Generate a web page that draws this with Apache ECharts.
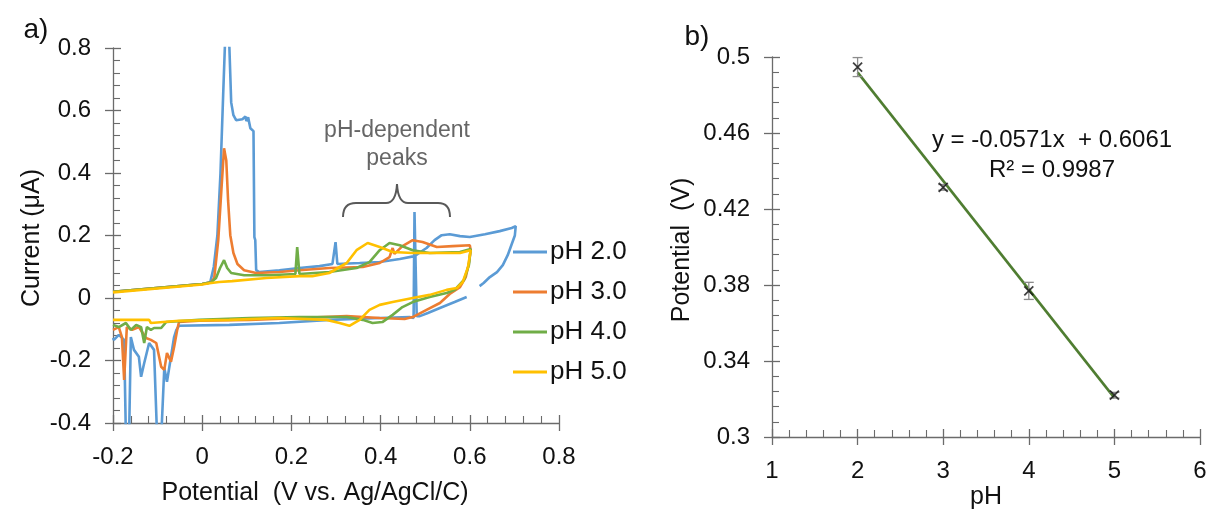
<!DOCTYPE html>
<html>
<head>
<meta charset="utf-8">
<script src="https://cdn.jsdelivr.net/npm/echarts@6/dist/echarts.min.js"></script>
<style>
  html, body { margin: 0; padding: 0; background: #fff; }
  #chart { width: 1226px; height: 518px; }
</style>
</head>
<body>
<div id="chart"></div>
<script>
// ---- Panel a: cyclic voltammograms, [potential (V), current (µA)] ----
const seriesNames = ['pH 2.0', 'pH 3.0', 'pH 4.0', 'pH 5.0'];
const seriesColors = ['#5B9BD5', '#ED7D31', '#70AD47', '#FFC000'];

const cvPh2 = [
  [-0.2, 0.02], [0.0, 0.045], [0.018, 0.05], [0.026, 0.1], [0.034, 0.2], [0.041, 0.4],
  [0.047, 0.65], [0.052, 0.85], [0.054, 1.0], [0.058, 1.0], [0.061, 0.8],
  [0.065, 0.626], [0.07, 0.585], [0.076, 0.569], [0.09, 0.572],
  [0.097, 0.581], [0.099, 0.566], [0.103, 0.578], [0.108, 0.543], [0.115, 0.534],
  [0.117, 0.195], [0.119, 0.185], [0.121, 0.089], [0.128, 0.083], [0.173, 0.089],
  [0.218, 0.096], [0.263, 0.102], [0.292, 0.109], [0.299, 0.179], [0.303, 0.109],
  [0.353, 0.112], [0.398, 0.115], [0.443, 0.125], [0.476, 0.134], [0.503, 0.16],
  [0.521, 0.185], [0.537, 0.201], [0.555, 0.204], [0.578, 0.198], [0.6, 0.195],
  [0.634, 0.204], [0.667, 0.214], [0.694, 0.224], [0.703, 0.23],
  [0.701, 0.2], [0.685, 0.137], [0.674, 0.105], [0.661, 0.083], [0.645, 0.067],
  [0.631, 0.048], [0.622, 0.038], ['-', '-'],
  [0.593, 0.003], [0.566, -0.013], [0.533, -0.032], [0.506, -0.048], [0.488, -0.058],
  [0.481, -0.058], [0.476, 0.275], [0.474, -0.064], [0.465, -0.061], [0.398, -0.064],
  [0.285, -0.07], [0.173, -0.08], [0.061, -0.086], [-0.052, -0.089], [-0.058, -0.102],
  [-0.063, -0.125], [-0.07, -0.188], [-0.079, -0.268], [-0.085, -0.224], [-0.092, -0.45],
  [-0.101, -0.45], [-0.108, -0.166], [-0.119, -0.144], [-0.13, -0.208], [-0.137, -0.252],
  [-0.142, -0.188], [-0.153, -0.166], [-0.16, -0.125], [-0.164, -0.45], [-0.171, -0.45],
  [-0.175, -0.134], [-0.187, -0.118], [-0.198, -0.134], [-0.2, -0.128]
];

const cvPh3 = [
  [-0.2, 0.02], [0.0, 0.045], [0.02, 0.05], [0.027, 0.064], [0.036, 0.185], [0.043, 0.345],
  [0.049, 0.479], [0.054, 0.44], [0.058, 0.313], [0.063, 0.201], [0.07, 0.144],
  [0.079, 0.109], [0.094, 0.089], [0.121, 0.08], [0.173, 0.083], [0.218, 0.089],
  [0.285, 0.096], [0.36, 0.099], [0.398, 0.112], [0.42, 0.131], [0.427, 0.16],
  [0.431, 0.141], [0.449, 0.166], [0.472, 0.185], [0.494, 0.179], [0.526, 0.163],
  [0.562, 0.166], [0.6, 0.169],
  [0.602, 0.153], [0.598, 0.112], [0.591, 0.067], [0.578, 0.035], [0.555, 0.013],
  [0.533, -0.016], [0.503, -0.038], [0.472, -0.061], [0.454, -0.067], [0.398, -0.064],
  [0.324, -0.058], [0.218, -0.064], [0.106, -0.07], [-0.007, -0.073], [-0.052, -0.077],
  [-0.056, -0.102], [-0.063, -0.157], [-0.07, -0.204], [-0.079, -0.176], [-0.085, -0.23],
  [-0.092, -0.22], [-0.103, -0.144], [-0.115, -0.134], [-0.126, -0.128], [-0.142, -0.093],
  [-0.157, -0.102], [-0.169, -0.093], [-0.175, -0.262], [-0.18, -0.125], [-0.187, -0.093],
  [-0.2, -0.102]
];

const cvPh4 = [
  [-0.2, 0.02], [0.0, 0.045], [0.02, 0.05], [0.031, 0.064], [0.04, 0.096], [0.049, 0.121],
  [0.056, 0.096], [0.065, 0.08], [0.094, 0.073], [0.151, 0.073], [0.209, 0.077],
  [0.213, 0.163], [0.218, 0.077], [0.285, 0.083], [0.346, 0.096], [0.375, 0.115],
  [0.398, 0.153], [0.42, 0.176], [0.443, 0.169], [0.472, 0.153], [0.51, 0.144],
  [0.578, 0.147], [0.602, 0.157],
  [0.598, 0.105], [0.587, 0.058], [0.566, 0.026], [0.548, 0.016], [0.51, 0.003],
  [0.472, -0.013], [0.449, -0.029], [0.427, -0.054], [0.404, -0.077], [0.382, -0.08],
  [0.36, -0.07], [0.324, -0.061], [0.218, -0.061], [0.106, -0.064], [-0.007, -0.07],
  [-0.081, -0.077], [-0.092, -0.096], [-0.108, -0.096], [-0.115, -0.102], [-0.124, -0.093],
  [-0.13, -0.144], [-0.137, -0.093], [-0.148, -0.086], [-0.16, -0.102], [-0.171, -0.08],
  [-0.187, -0.093], [-0.2, -0.086]
];

const cvPh5 = [
  [-0.2, 0.018], [0.0, 0.043], [0.016, 0.047], [0.038, 0.051], [0.067, 0.054],
  [0.144, 0.064], [0.218, 0.07], [0.247, 0.07], [0.285, 0.08], [0.324, 0.112],
  [0.346, 0.153], [0.371, 0.176], [0.398, 0.163], [0.427, 0.147], [0.472, 0.144],
  [0.578, 0.144], [0.602, 0.153],
  [0.596, 0.099], [0.584, 0.051], [0.571, 0.032], [0.548, 0.026], [0.51, 0.01],
  [0.472, 0.0], [0.427, -0.013], [0.398, -0.022], [0.375, -0.038], [0.353, -0.07],
  [0.33, -0.089], [0.308, -0.08], [0.279, -0.07], [0.173, -0.064], [0.061, -0.07],
  [-0.052, -0.073], [-0.115, -0.08], [-0.119, -0.07], [-0.2, -0.07]
];

// ---- Panel b: peak potential versus pH ----
const phValues = [2, 3, 4, 5];
const peakPotential = [0.4947, 0.4314, 0.3769, 0.322];
const peakError = [0.005, 0.0015, 0.0045, 0.0015];
const fitSlope = -0.0571;
const fitIntercept = 0.6061;
const fitR2 = 0.9987;
const fitRange = [2, 5];

const FONT = "'Liberation Sans', Arial, sans-serif";
const AXIS_GREY = '#6b6b6b';
const TEXT = '#111';

const chart = echarts.init(document.getElementById('chart'), null, { renderer: 'canvas' });

function fmt(v) { return String(parseFloat(v.toFixed(3))); }

// Main axis: ticks and minor ticks pointing into the plot; labels.
function mainAxis(extra) {
  return Object.assign({
    type: 'value',
    axisLine: { show: true, onZero: false, lineStyle: { color: AXIS_GREY, width: 1.3 } },
    axisTick: { show: true, inside: true, length: 8, lineStyle: { color: AXIS_GREY, width: 1.3 } },
    minorTick: { show: true, splitNumber: 5, length: 7, lineStyle: { color: AXIS_GREY, width: 1.1 } },
    splitLine: { show: false },
    axisLabel: { color: TEXT, fontSize: 24, fontFamily: FONT, margin: 22, formatter: fmt }
  }, extra);
}
// Companion axis: only the outer half of the major ticks, so they cross the axis line.
function tickAxis(extra) {
  return Object.assign({
    type: 'value',
    axisLine: { show: false, onZero: false },
    axisTick: { show: true, inside: false, length: 8, lineStyle: { color: AXIS_GREY, width: 1.3 } },
    axisLabel: { show: false },
    splitLine: { show: false }
  }, extra);
}

const axA_x = { gridIndex: 0, position: 'bottom', min: -0.2, max: 0.8, interval: 0.2 };
const axA_y = { gridIndex: 0, position: 'left', min: -0.4, max: 0.8, interval: 0.2 };
const axB_x = { gridIndex: 1, position: 'bottom', min: 1, max: 6, interval: 1 };
const axB_y = { gridIndex: 1, position: 'left', min: 0.3, max: 0.5, interval: 0.04 };

const cvSets = [cvPh2, cvPh3, cvPh4, cvPh5];
const cvSeries = cvSets.map((d, i) => ({
  name: seriesNames[i],
  type: 'line',
  xAxisIndex: 0,
  yAxisIndex: 0,
  data: d,
  showSymbol: false,
  symbol: 'none',
  connectNulls: false,
  clip: true,
  lineStyle: { color: seriesColors[i], width: 2.6 },
  itemStyle: { color: seriesColors[i] },
  z: 2 + i
}));

// Fit line from the regression equation
const fitLine = fitRange.map(x => [x, fitSlope * x + fitIntercept]);

const legends = seriesNames.map((n, i) => ({
  data: [{ name: n, icon: 'rect' }],
  orient: 'vertical',
  left: 513,
  top: 239 + i * 40,
  padding: 0,
  itemWidth: 34,
  itemHeight: 3,
  itemGap: 0,
  selectedMode: false,
  textStyle: { color: TEXT, fontSize: 26, fontFamily: FONT, lineHeight: 26, padding: [0, 0, 0, -2] }
}));

// Curly brace over the pH-dependent oxidation peaks
const BRACE = { stroke: '#595959', lineWidth: 2, fill: null };
const braceParts = [
  { type: 'bezierCurve', shape: { x1: 343, y1: 217, cpx1: 343, cpy1: 203, x2: 356, y2: 203 }, style: BRACE },
  { type: 'line', shape: { x1: 356, y1: 203, x2: 386, y2: 203 }, style: BRACE },
  { type: 'bezierCurve', shape: { x1: 386, y1: 203, cpx1: 396, cpy1: 203, x2: 397, y2: 184 }, style: BRACE },
  { type: 'bezierCurve', shape: { x1: 397, y1: 184, cpx1: 398, cpy1: 203, x2: 408, y2: 203 }, style: BRACE },
  { type: 'line', shape: { x1: 408, y1: 203, x2: 438, y2: 203 }, style: BRACE },
  { type: 'bezierCurve', shape: { x1: 438, y1: 203, cpx1: 450, cpy1: 203, x2: 450, y2: 217 }, style: BRACE }
];

function label(text, x, y, size, extra) {
  return Object.assign({
    type: 'text', x: x, y: y,
    style: { text: text, font: size + 'px ' + FONT, fill: TEXT, align: 'center', verticalAlign: 'middle' }
  }, extra || {});
}

chart.setOption({
  animation: false,
  backgroundColor: '#fff',
  textStyle: { fontFamily: FONT },
  grid: [
    { left: 113, top: 48, width: 446, height: 375 },
    { left: 772, top: 57, width: 428, height: 380 }
  ],
  legend: legends,
  xAxis: [
    mainAxis(axA_x),
    mainAxis(axB_x),
    tickAxis(axA_x),
    tickAxis(axB_x)
  ],
  yAxis: [
    mainAxis(axA_y),
    mainAxis(axB_y),
    tickAxis(axA_y),
    tickAxis(axB_y)
  ],
  graphic: [
    label('a)', 36, 30, 28),
    label('b)', 697, 37, 28),
    label('Current (μA)', 32, 238, 25, { rotation: Math.PI / 2 }),
    label('Potential  (V vs. Ag/AgCl/C)', 315, 493, 25),
    label('Potential  (V)', 682, 250, 25, { rotation: Math.PI / 2 }),
    label('pH', 986, 497, 25),
    { type: 'text', x: 397, y: 131,
      style: { text: 'pH-dependent', font: '23px ' + FONT, fill: '#666', align: 'center', verticalAlign: 'middle' } },
    { type: 'text', x: 397, y: 159,
      style: { text: 'peaks', font: '23px ' + FONT, fill: '#666', align: 'center', verticalAlign: 'middle' } },
    label('y = ' + fitSlope + 'x  + ' + fitIntercept, 1052, 140, 24),
    label('R² = ' + fitR2, 1052, 170, 24)
  ].concat(braceParts),
  series: cvSeries.concat([
    {
      name: 'Linear fit',
      type: 'line',
      xAxisIndex: 1,
      yAxisIndex: 1,
      data: fitLine,
      showSymbol: false,
      symbol: 'none',
      lineStyle: { color: '#4f7d31', width: 2.6 },
      z: 2
    },
    {
      name: 'Error',
      type: 'custom',
      xAxisIndex: 1,
      yAxisIndex: 1,
      data: phValues.map((x, i) => [x, peakPotential[i] - peakError[i], peakPotential[i] + peakError[i]]),
      renderItem: function (params, api) {
        const lo = api.coord([api.value(0), api.value(1)]);
        const hi = api.coord([api.value(0), api.value(2)]);
        const hw = 5;
        const st = { stroke: '#8c8c8c', lineWidth: 1.3 };
        return {
          type: 'group',
          children: [
            { type: 'line', shape: { x1: lo[0], y1: lo[1], x2: hi[0], y2: hi[1] }, style: st },
            { type: 'line', shape: { x1: lo[0] - hw, y1: lo[1], x2: lo[0] + hw, y2: lo[1] }, style: st },
            { type: 'line', shape: { x1: hi[0] - hw, y1: hi[1], x2: hi[0] + hw, y2: hi[1] }, style: st }
          ]
        };
      },
      z: 3
    },
    {
      name: 'Peak potential',
      type: 'scatter',
      xAxisIndex: 1,
      yAxisIndex: 1,
      data: phValues.map((x, i) => [x, peakPotential[i]]),
      symbol: 'path://M0,0L10,10M10,0L0,10',
      symbolSize: 9,
      itemStyle: { color: '#111', borderColor: '#111', borderWidth: 1.8 },
      z: 4
    }
  ])
});
</script>
</body>
</html>
